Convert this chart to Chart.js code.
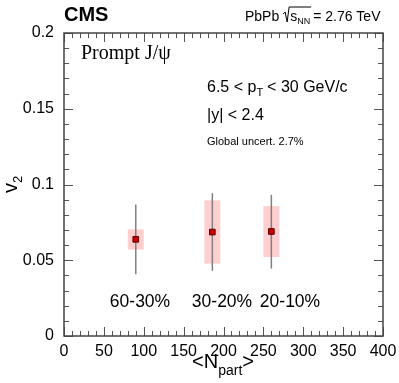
<!DOCTYPE html>
<html>
<head>
<meta charset="utf-8">
<script src="https://cdn.jsdelivr.net/npm/chart.js@4.4.0/dist/chart.umd.min.js"></script>
<style>
  html, body { margin: 0; padding: 0; background: #fff; }
  #wrap { width: 399px; height: 383px; }
</style>
</head>
<body>
<div id="wrap"><canvas id="myChart" width="399" height="383"></canvas></div>
<script>
// values
const nPart = [90, 186, 260];
const v2 = [0.0638, 0.0686, 0.069];
const statLow = [0.0408, 0.043, 0.0445];
const statHigh = [0.0868, 0.0943, 0.0932];
const sysLow = [0.0571, 0.0478, 0.0521];
const sysHigh = [0.0704, 0.0895, 0.0857];
const centLabels = ['60-30%', '30-20%', '20-10%'];
const centLabelX = [140, 222, 290];

const sans = '"Liberation Sans", Arial, sans-serif';
const boxHalf = 10;

let ctx = document.getElementById('myChart').getContext('2d');

const framePlugin = {
    id: 'frame',
    beforeDatasetsDraw(chart) {
        const c = chart.ctx;
        const xs = chart.scales.x, ys = chart.scales.y;
        c.save();
        // systematic boxes
        c.fillStyle = 'rgba(255, 180, 180, 0.65)';
        for (let i = 0; i < nPart.length; i++) {
            let x0 = xs.getPixelForValue(nPart[i] - boxHalf);
            let x1 = xs.getPixelForValue(nPart[i] + boxHalf);
            let y0 = ys.getPixelForValue(sysHigh[i]);
            let y1 = ys.getPixelForValue(sysLow[i]);
            c.fillRect(x0, y0, x1 - x0, y1 - y0);
        }
        // stat error bars
        c.strokeStyle = '#808080';
        c.lineWidth = 1.5;
        for (let i = 0; i < nPart.length; i++) {
            let x = xs.getPixelForValue(nPart[i]);
            c.beginPath();
            c.moveTo(x, ys.getPixelForValue(statHigh[i]));
            c.lineTo(x, ys.getPixelForValue(statLow[i]));
            c.stroke();
        }
        c.restore();
    },
    afterDraw(chart) {
        const c = chart.ctx;
        const a = chart.chartArea;
        const xs = chart.scales.x, ys = chart.scales.y;
        c.save();
        c.strokeStyle = '#555';
        c.lineWidth = 1;
        // ticks inside frame, on all four sides
        c.beginPath();
        for (let v = 0; v <= 400; v += 10) {
            let x = Math.round(xs.getPixelForValue(v)) + 0.5;
            let len = v % 50 === 0 ? 9 : 5;
            c.moveTo(x, a.bottom); c.lineTo(x, a.bottom - len);
            c.moveTo(x, a.top); c.lineTo(x, a.top + len);
        }
        for (let k = 0; k <= 20; k++) {
            let y = Math.round(ys.getPixelForValue(k / 100)) + 0.5;
            let len = k % 5 === 0 ? 9 : 5;
            c.moveTo(a.left, y); c.lineTo(a.left + len, y);
            c.moveTo(a.right, y); c.lineTo(a.right - len, y);
        }
        c.stroke();
        c.lineWidth = 1.5;
        c.strokeStyle = '#444';
        c.strokeRect(a.left, a.top, a.right - a.left, a.bottom - a.top);

        c.fillStyle = '#000';
        c.textBaseline = 'alphabetic';
        // header
        c.font = 'bold 20px ' + sans;
        c.textAlign = 'left';
        c.fillText('CMS', 64, 21);
        c.font = '14px ' + sans;
        let hx = 245;
        c.fillText('PbPb ', hx, 21);
        hx += c.measureText('PbPb ').width;
        // sqrt sign
        c.lineWidth = 1;
        c.strokeStyle = '#000';
        c.beginPath();
        c.moveTo(hx, 14); c.lineTo(hx + 2, 12); c.lineTo(hx + 4, 22); c.lineTo(hx + 6, 7); c.lineTo(hx + 28, 7);
        c.stroke();
        hx += 7;
        c.fillText('s', hx, 21);
        hx += c.measureText('s').width;
        c.font = '9px ' + sans;
        c.fillText('NN', hx, 24);
        hx += c.measureText('NN').width + 3;
        c.font = '14px ' + sans;
        c.fillText('= 2.76 TeV', hx, 21);

        // Prompt J/psi
        c.font = '20px "Liberation Serif", "DejaVu Serif", serif';
        c.fillText('Prompt J/\u03c8', 81, 59);

        // kinematic text
        c.font = '16px ' + sans;
        let tx = 207;
        c.fillText('6.5 < p', tx, 92);
        tx += c.measureText('6.5 < p').width;
        c.font = '11px ' + sans;
        c.fillText('T', tx, 96);
        tx += c.measureText('T').width + 4;
        c.font = '16px ' + sans;
        c.fillText('< 30 GeV/c', tx, 92);
        c.fillText('|y| < 2.4', 207, 120);
        c.font = '11px ' + sans;
        c.fillText('Global uncert. 2.7%', 207, 145);

        // centrality labels
        c.font = '17.5px ' + sans;
        c.textAlign = 'center';
        for (let i = 0; i < centLabels.length; i++) {
            c.fillText(centLabels[i], centLabelX[i], 307);
        }

        // x title <N_part>
        c.textAlign = 'left';
        let t1 = '<N', t2 = 'part', t3 = '>';
        c.font = '20px ' + sans; let w1 = c.measureText(t1).width;
        c.font = '14px ' + sans; let w2 = c.measureText(t2).width;
        c.font = '20px ' + sans; let w3 = c.measureText(t3).width;
        let sx = 223 - (w1 + w2 + w3) / 2;
        c.fillText(t1, sx, 368);
        c.font = '14px ' + sans;
        c.fillText(t2, sx + w1, 375);
        c.font = '20px ' + sans;
        c.fillText(t3, sx + w1 + w2, 368);

        // y title v2
        c.translate(17, 185);
        c.rotate(-Math.PI / 2);
        c.font = '20px ' + sans;
        c.fillText('v', -8, 0);
        c.font = '13px ' + sans;
        c.fillText('2', 2, 5);
        c.restore();
    }
};

new Chart(ctx, {
    type: 'scatter',
    data: {
        datasets: [{
            data: nPart.map((x, i) => ({ x: x, y: v2[i] })),
            pointStyle: 'rect',
            pointRadius: 4,
            pointBackgroundColor: '#cc0000',
            pointBorderColor: '#5a0000',
            pointBorderWidth: 1,
            showLine: false
        }]
    },
    options: {
        responsive: false,
        animation: false,
        layout: { padding: { top: 33, right: 16, left: 0, bottom: 0 } },
        plugins: {
            legend: { display: false },
            tooltip: { enabled: false }
        },
        scales: {
            x: {
                type: 'linear',
                min: 0,
                max: 400,
                grid: { display: false },
                border: { display: false },
                ticks: {
                    stepSize: 50,
                    padding: -2,
                    color: '#000',
                    maxRotation: 0,
                    font: { family: sans, size: 16 }
                },
                afterFit: (scale) => { scale.height = 47; }
            },
            y: {
                min: 0,
                max: 0.2,
                grid: { display: false },
                border: { display: false },
                ticks: {
                    stepSize: 0.05,
                    padding: 2,
                    color: '#000',
                    font: { family: sans, size: 16 },
                    callback: (v) => String(+v.toFixed(2))
                },
                afterFit: (scale) => { scale.width = 64; }
            }
        }
    },
    plugins: [framePlugin]
});
</script>
</body>
</html>
